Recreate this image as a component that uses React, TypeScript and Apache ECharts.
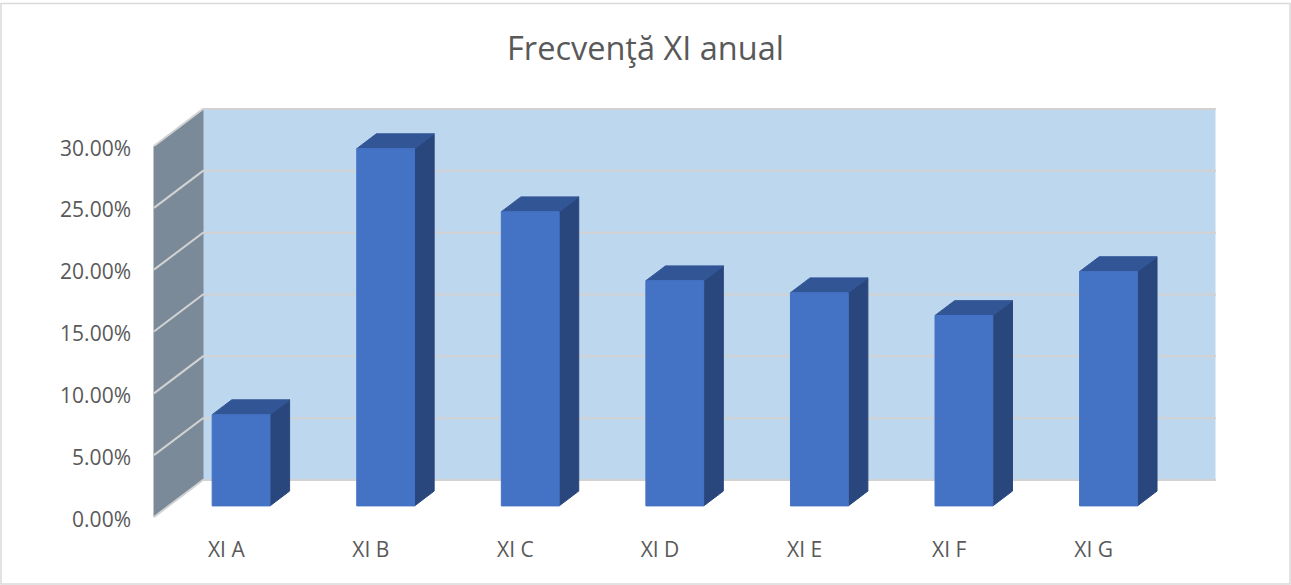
import React, { useEffect, useRef } from "react";
import * as echarts from "echarts";

const TITLE = "Frecvenţă XI anual";
const categories = ["XI A", "XI B", "XI C", "XI D", "XI E", "XI F", "XI G"];
const frequency = [7.38, 28.89, 23.79, 18.21, 17.24, 15.4, 18.95];
const yTicks = [0, 5, 10, 15, 20, 25, 30];

const DEPTH_X = 49;
const DEPTH_Y = 37;
const BAR_FRONT = 0.3;
const BAR_BACK = 0.7;
const BAR_RATIO = 0.4;
const BAR_NUDGE_X = 0.1;
const TEXT = "#595959";
const LINE = "#D2D2D2";

function poly(points: number[][], fill: string, stroke?: string, lineWidth = 1) {
  return {
    type: "polygon",
    shape: { points },
    style: { fill, stroke: stroke ?? fill, lineWidth },
  };
}

export default function App() {
  const ref = useRef<HTMLDivElement>(null);
  useEffect(() => {
    document.body.style.margin = "0";
    const chart = echarts.init(ref.current!, undefined, { renderer: "svg" });
    chart.setOption({
      animation: false,
      backgroundColor: "#FFFFFF",
      textStyle: { fontFamily: "Open Sans" },
      title: {
        text: TITLE,
        left: "center",
        top: 26,
        textStyle: { fontFamily: "Open Sans", fontSize: 32.5, fontWeight: "normal", color: TEXT },
      },
      graphic: [
        {
          type: "rect",
          shape: { x: 1, y: 3.5, width: 1289, height: 580.5 },
          style: { fill: "none", stroke: "#D9D9D9", lineWidth: 1.5 },
          silent: true,
          z: 0,
        },
      ],
      grid: { left: 154, top: 146, width: 1012, height: 371, containLabel: false },
      xAxis: {
        type: "category",
        data: categories,
        axisLine: { show: false },
        axisTick: { show: false },
        axisLabel: { color: TEXT, fontFamily: "Open Sans", fontSize: 21, margin: 21 },
      },
      yAxis: {
        type: "value",
        min: 0,
        max: 30,
        interval: 5,
        splitLine: { show: false },
        axisLine: { show: false },
        axisTick: { show: false },
        axisLabel: {
          color: TEXT,
          fontFamily: "Open Sans",
          fontSize: 21,
          margin: 23,
          formatter: (v: number) => "{t|" + v.toFixed(2) + "%}",
          rich: {
            t: { color: TEXT, fontFamily: "Open Sans", fontSize: 21, padding: [3, 0, 0, 0] },
          },
        },
      },
      series: [
        {
          type: "custom",
          z: 1,
          silent: true,
          encode: { x: 0, y: 1 },
          data: [[categories[0], yTicks[yTicks.length - 1]]],
          renderItem: (params: any, api: any) => {
            const cs = params.coordSys;
            const left = cs.x;
            const right = cs.x + cs.width;
            const top = cs.y;
            const bottom = cs.y + cs.height;
            return {
              type: "group",
              children: [
                poly(
                  [
                    [left + DEPTH_X, top - DEPTH_Y],
                    [right + DEPTH_X, top - DEPTH_Y],
                    [right + DEPTH_X, bottom - DEPTH_Y],
                    [left + DEPTH_X, bottom - DEPTH_Y],
                  ],
                  "#BDD7EE"
                ),
                poly(
                  [
                    [left, top],
                    [left + DEPTH_X, top - DEPTH_Y],
                    [left + DEPTH_X, bottom - DEPTH_Y],
                    [left, bottom],
                  ],
                  "#7A8A99"
                ),
              ],
            };
          },
        },
        {
          type: "custom",
          z: 2,
          silent: true,
          encode: { x: 0, y: 1 },
          data: yTicks.map((t) => [categories[0], t]),
          renderItem: (params: any, api: any) => {
            const cs = params.coordSys;
            const y = api.coord([0, api.value(1)])[1];
            return {
              type: "polyline",
              shape: {
                points: [
                  [cs.x, y],
                  [cs.x + DEPTH_X, y - DEPTH_Y],
                  [cs.x + cs.width + DEPTH_X + 1, y - DEPTH_Y],
                ],
              },
              style: { fill: "none", stroke: LINE, lineWidth: 2 },
            };
          },
        },
        {
          type: "custom",
          z: 3,
          silent: true,
          encode: { x: 0, y: 1 },
          data: categories.map((c, i) => [c, frequency[i]]),
          renderItem: (params: any, api: any) => {
            const idx = api.value(0);
            const top = api.coord([idx, api.value(1)]);
            const base = api.coord([idx, 0]);
            const half = (api.size([1, 0])[0] * BAR_RATIO) / 2;
            const fx = BAR_FRONT * DEPTH_X + BAR_NUDGE_X;
            const fy = BAR_FRONT * DEPTH_Y;
            const bx = BAR_BACK * DEPTH_X + BAR_NUDGE_X;
            const by = BAR_BACK * DEPTH_Y;
            const p = (x: number, y: number, dx: number, dy: number) => [x + dx, y - dy];
            const xl = top[0] - half;
            const xr = top[0] + half;
            return {
              type: "group",
              children: [
                poly(
                  [p(xr, top[1], fx, fy), p(xr, top[1], bx, by), p(xr, base[1], bx, by), p(xr, base[1], fx, fy)],
                  "#29477D"
                ),
                poly(
                  [p(xl, top[1], fx, fy), p(xl, top[1], bx, by), p(xr, top[1], bx, by), p(xr, top[1], fx, fy)],
                  "#325596"
                ),
                poly(
                  [p(xl, top[1], fx, fy), p(xr, top[1], fx, fy), p(xr, base[1], fx, fy), p(xl, base[1], fx, fy)],
                  "#4472C4"
                ),
              ],
            };
          },
        },
      ],
    });
    return () => chart.dispose();
  }, []);
  return <div ref={ref} style={{ position: "fixed", left: 0, top: 0, width: 1291, height: 585 }} />;
}
